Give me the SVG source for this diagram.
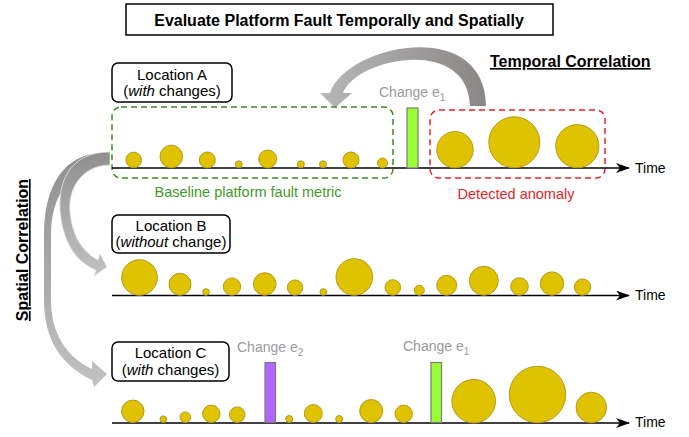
<svg xmlns="http://www.w3.org/2000/svg" width="689" height="437" viewBox="0 0 689 437">
<style>
text{font-family:"Liberation Sans",Arial,sans-serif;}
.box{fill:#fff;stroke:#000;stroke-width:1.5;}
.loc{font-size:15px;fill:#000;text-anchor:middle;}
.c{fill:#e0c300;stroke:#b39a1a;stroke-width:1;}
.axis{stroke:#000;stroke-width:1.6;fill:none;}
.time{font-size:14px;fill:#000;}
.chg{font-size:14px;fill:#9a9a9a;}
.sub{font-size:10px;}
.bar{stroke:#7a7a7a;stroke-width:1.2;}
.head{font-size:16px;font-weight:bold;fill:#000;}
</style>
<defs>
<marker id="ah" viewBox="0 0 14 10" refX="13" refY="5" markerWidth="14" markerHeight="10" markerUnits="userSpaceOnUse" orient="auto">
<path d="M0,0 L14,5 L0,10 L4,5 Z" fill="#000"/>
</marker>
<linearGradient id="gt" x1="0" y1="0" x2="1" y2="0">
<stop offset="0" stop-color="#b8b8b8"/>
<stop offset="1" stop-color="#8a8686"/>
</linearGradient>
<linearGradient id="gs" x1="0" y1="0" x2="0" y2="1">
<stop offset="0" stop-color="#8f8f8f"/>
<stop offset="1" stop-color="#c2c2c2"/>
</linearGradient>
</defs>

<g id="title">
<rect x="126" y="4" width="427" height="31" fill="#fff" stroke="#000" stroke-width="1.5"/>
<text x="339" y="26" class="head" text-anchor="middle">Evaluate Platform Fault Temporally and Spatially</text>
</g>

<g id="connectors">
<path d="M486,106 C485,15 345,45 330,93 L320,93 L335,108 L352,93 L343,93 C355,58 468,35 470,106 Z" fill="url(#gt)"/>
<path d="M110,153 C65,150 44,185 44,235 L44,300 C44,340 62,366 92,380 L94,387 L107,374 L92,361 L92,369 C68,358 51,335 51,300 L51,235 C51,195 70,168 110,165 Z" fill="url(#gs)"/>
<path d="M110,152 C75,152 58,175 60,210 C62,240 75,262 96,270 L94,276 L107,267 L100,254 L98,260 C82,252 72,235 70,212 C68,185 85,165 110,165 Z" fill="url(#gs)" stroke="#e6e6e6" stroke-width="0.8"/>
</g>

<g id="temporal-label">
<text x="490" y="67" class="head" text-decoration="underline">Temporal Correlation</text>
</g>
<g id="spatial-label">
<text transform="translate(28,250) rotate(-90)" x="0" y="0" class="head" text-anchor="middle" text-decoration="underline">Spatial Correlation</text>
</g>

<g id="location-a">
<rect x="112" y="63" width="120" height="39" rx="6" class="box"/>
<text x="172" y="80" class="loc">Location A</text>
<text x="172" y="96" class="loc">(<tspan font-style="italic">with</tspan> changes)</text>
</g>

<g id="baseline-box">
<rect x="112" y="107" width="281" height="71" rx="9" fill="none" stroke="#3f8a22" stroke-width="1.5" stroke-dasharray="6,4"/>
<text x="248" y="197" font-size="14.5" fill="#3f9a2a" text-anchor="middle">Baseline platform fault metric</text>
</g>

<g id="anomaly-box">
<rect x="430" y="110" width="175" height="68" rx="9" fill="none" stroke="#e8242a" stroke-width="1.5" stroke-dasharray="6,4"/>
<text x="516" y="199" font-size="14.5" fill="#e8242a" text-anchor="middle">Detected anomaly</text>
</g>

<g id="timeline-a">
<line x1="112" y1="168" x2="629" y2="168" class="axis" marker-end="url(#ah)"/>
<text x="635" y="173" class="time">Time</text>
<circle cx="133.7" cy="160" r="7.8" class="c"/>
<circle cx="171.3" cy="156.5" r="11.3" class="c"/>
<circle cx="207.3" cy="160" r="8" class="c"/>
<circle cx="238.8" cy="164.3" r="3.5" class="c"/>
<circle cx="267.7" cy="159" r="9" class="c"/>
<circle cx="300.8" cy="164.3" r="3.5" class="c"/>
<circle cx="323" cy="164.3" r="3.5" class="c"/>
<circle cx="351" cy="160" r="8" class="c"/>
<circle cx="382.5" cy="163" r="5" class="c"/>
<circle cx="455" cy="149.7" r="18.2" class="c"/>
<circle cx="514.3" cy="142.3" r="25.5" class="c"/>
<circle cx="577.3" cy="146.2" r="21.6" class="c"/>
</g>

<g id="change-e1-a">
<rect x="407" y="108" width="11" height="60" fill="#99ff33" class="bar"/>
<text x="379" y="97" class="chg">Change e<tspan class="sub" dy="4">1</tspan></text>
</g>

<g id="location-b">
<rect x="112" y="215" width="118" height="38" rx="6" class="box"/>
<text x="171" y="231" class="loc">Location B</text>
<text x="171" y="246.5" class="loc">(<tspan font-style="italic">without</tspan> change)</text>
</g>

<g id="timeline-b">
<line x1="112" y1="295.5" x2="629" y2="295.5" class="axis" marker-end="url(#ah)"/>
<text x="635" y="300" class="time">Time</text>
<circle cx="139.5" cy="277.5" r="17.8" class="c"/>
<circle cx="180" cy="284.3" r="11" class="c"/>
<circle cx="206" cy="292" r="3.3" class="c"/>
<circle cx="232" cy="286.6" r="8.7" class="c"/>
<circle cx="264.7" cy="284" r="11.3" class="c"/>
<circle cx="295" cy="287.6" r="7.7" class="c"/>
<circle cx="323.3" cy="292" r="3.3" class="c"/>
<circle cx="354.3" cy="277" r="18.3" class="c"/>
<circle cx="392.8" cy="287.5" r="7.8" class="c"/>
<circle cx="419.3" cy="290.3" r="5" class="c"/>
<circle cx="446.7" cy="285.3" r="10" class="c"/>
<circle cx="483.8" cy="280.8" r="14.5" class="c"/>
<circle cx="519.5" cy="286.5" r="8.8" class="c"/>
<circle cx="552" cy="283.6" r="11.7" class="c"/>
<circle cx="582.5" cy="287.1" r="8.2" class="c"/>
</g>

<g id="location-c">
<rect x="112" y="342" width="117" height="39" rx="6" class="box"/>
<text x="170.5" y="358" class="loc">Location C</text>
<text x="170.5" y="375" class="loc">(<tspan font-style="italic">with</tspan> changes)</text>
</g>

<g id="timeline-c">
<line x1="112" y1="423" x2="629" y2="423" class="axis" marker-end="url(#ah)"/>
<text x="635" y="427" class="time">Time</text>
<circle cx="132.8" cy="411.3" r="11.2" class="c"/>
<circle cx="163.3" cy="419.2" r="3.3" class="c"/>
<circle cx="185.3" cy="417.2" r="5.3" class="c"/>
<circle cx="211.3" cy="413.8" r="8.7" class="c"/>
<circle cx="237.2" cy="414.7" r="7.8" class="c"/>
<circle cx="289.2" cy="419" r="3.5" class="c"/>
<circle cx="313.3" cy="413.5" r="9" class="c"/>
<circle cx="339.2" cy="419" r="3.5" class="c"/>
<circle cx="371.2" cy="411" r="11.5" class="c"/>
<circle cx="403.7" cy="413.8" r="8.7" class="c"/>
<circle cx="473.7" cy="401.2" r="21.8" class="c"/>
<circle cx="537.5" cy="394.5" r="28.2" class="c"/>
<circle cx="591.3" cy="407.5" r="15.3" class="c"/>
</g>

<g id="change-e2-c">
<rect x="265" y="362.5" width="10.5" height="60" fill="#b366ff" class="bar"/>
<text x="237" y="352" class="chg">Change e<tspan class="sub" dy="4">2</tspan></text>
</g>

<g id="change-e1-c">
<rect x="431" y="362.5" width="10.5" height="60" fill="#99ff33" class="bar"/>
<text x="403" y="351" class="chg">Change e<tspan class="sub" dy="4">1</tspan></text>
</g>
</svg>
